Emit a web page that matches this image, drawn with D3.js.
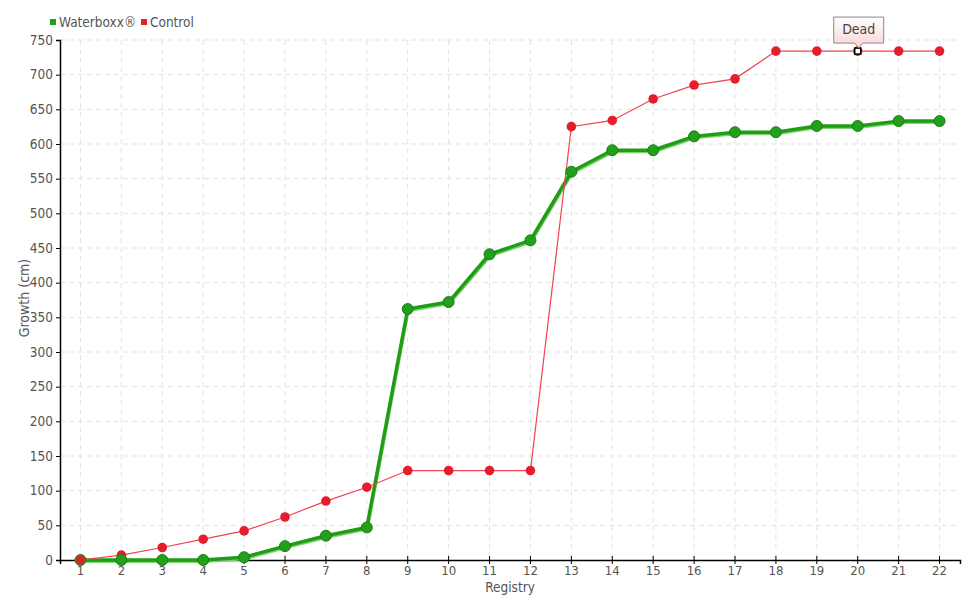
<!DOCTYPE html>
<html><head><meta charset="utf-8">
<script src="https://cdn.jsdelivr.net/npm/d3@7"></script>
<style>body{margin:0;background:#fff}svg{display:block}text{font-family:"DejaVu Sans Condensed","DejaVu Sans",sans-serif}</style>
</head><body><svg id="c" width="980" height="600"></svg>
<script>
const categories = [1,2,3,4,5,6,7,8,9,10,11,12,13,14,15,16,17,18,19,20,21,22];
const waterboxx = [0,0,0,0,4,20,35,47,362,372,441,461,560,591,591,611,617,617,626,626,633,633];
const control = [0,7,18,30,42,62,85,105,129,129,129,129,625,634,665,685,694,734,734,734,734,734];
const yTicks = [0,50,100,150,200,250,300,350,400,450,500,550,600,650,700,750];
const seriesNames = ["Waterboxx®","Control"];
const deadIndex = 19;
const deadLabel = "Dead";

const svg = d3.select("#c");
const L=60,R=960,T=40,B=560;
const x = d3.scaleBand().domain(categories).range([L,R]);
const cx = d => x(d)+x.bandwidth()/2;
const y = d3.scaleLinear().domain([0,750]).range([B,T]);

// grid
const g = svg.append("g");
g.selectAll("line.h").data(yTicks.slice(1)).join("line")
 .attr("x1",L).attr("x2",R).attr("y1",d=>y(d)).attr("y2",d=>y(d))
 .attr("stroke","#e3e3e3").attr("stroke-dasharray","5,4");
g.selectAll("line.v").data(categories).join("line")
 .attr("x1",d=>cx(d)).attr("x2",d=>cx(d)).attr("y1",T).attr("y2",B)
 .attr("stroke","#e3e3e3").attr("stroke-dasharray","5,4");

// axes
const ya = svg.append("g").attr("transform",`translate(${L},0)`)
 .call(d3.axisLeft(y).tickValues(yTicks).tickSize(4).tickPadding(3));
const xa = svg.append("g").attr("transform",`translate(0,${B})`)
 .call(d3.axisBottom(x).tickSize(4).tickPadding(2));
[ya,xa].forEach(a=>{a.select(".domain").attr("stroke","#000").attr("stroke-width",1.5);
 a.selectAll(".tick line").attr("stroke","#000");
 a.selectAll(".tick text").attr("fill","#555").style("font-size","13.5px").style("font-family","'DejaVu Sans Condensed',sans-serif");});
xa.selectAll(".tick line").attr("y1",-4).attr("y2",4);
xa.selectAll(".tick text").style("font-size","13px");

// titles
svg.append("text").attr("x",510).attr("y",592).attr("text-anchor","middle")
 .attr("fill","#555").style("font-size","13.5px").text("Registry");
svg.append("text").attr("transform","translate(29,298) rotate(-90)").attr("text-anchor","middle")
 .attr("fill","#555").style("font-size","14px").text("Growth (cm)");

// lines
const line = d3.line().x((d,i)=>cx(categories[i])).y(d=>y(d));
svg.append("path").datum(waterboxx).attr("d",line).attr("fill","none")
 .attr("stroke","#7fcf73").attr("stroke-width",2).attr("transform","translate(1,2)");
svg.append("path").datum(waterboxx).attr("d",line).attr("fill","none")
 .attr("stroke","#1f9e14").attr("stroke-width",3.5).attr("stroke-linejoin","round");
svg.append("path").datum(control).attr("d",line).attr("fill","none")
 .attr("stroke","#f2424f").attr("stroke-width",1.2);

svg.selectAll("circle.r").data(control).join("circle")
 .attr("cx",(d,i)=>cx(categories[i])).attr("cy",d=>y(d)).attr("r",4.8)
 .attr("fill","#e41e2b");
svg.selectAll("circle.gp").data(waterboxx).join("circle")
 .attr("cx",(d,i)=>cx(categories[i])).attr("cy",d=>y(d)).attr("r",5.5)
 .attr("fill","#22a01b").attr("stroke","#1b7e16").attr("stroke-width",1);
// first control point drawn over green
svg.append("circle").attr("cx",cx(categories[0])).attr("cy",y(control[0])).attr("r",4.5).attr("fill","#e41e2b");

// dead marker
const dx = cx(categories[deadIndex]), dy = y(control[deadIndex]);
svg.append("rect").attr("x",dx-3).attr("y",dy-3).attr("width",6).attr("height",6)
 .attr("fill","#fff").attr("stroke","#000").attr("stroke-width",1.5);
const defs = svg.append("defs");
const gr = defs.append("linearGradient").attr("id","tg").attr("x1",0).attr("y1",0).attr("x2",0).attr("y2",1);
gr.append("stop").attr("offset","0%").attr("stop-color","#ffffff");
gr.append("stop").attr("offset","100%").attr("stop-color","#fbd3d3");
const bw=50,bh=26,bx=dx-bw/2+1,by=dy-34;
svg.append("path").attr("d",`M${bx},${by}h${bw}v${bh}h${-bw/2+4}l-4,5l-4,-5h${-bw/2+4}z`)
 .attr("fill","url(#tg)").attr("stroke","#888").attr("stroke-width",1);
svg.append("text").attr("x",bx+bw/2).attr("y",by+17).attr("text-anchor","middle")
 .attr("fill","#444").style("font-size","14px").text(deadLabel);

// legend
const leg = svg.append("g");
const lc = ["#22a01b","#e41e2b"], lx=[50,141];
seriesNames.forEach((n,i)=>{
 leg.append("rect").attr("x",lx[i]).attr("y",19).attr("width",6).attr("height",6).attr("fill",lc[i]);
 leg.append("text").attr("x",lx[i]+9).attr("y",27).attr("fill","#555").style("font-size","13.5px").text(n);
});
</script></body></html>
